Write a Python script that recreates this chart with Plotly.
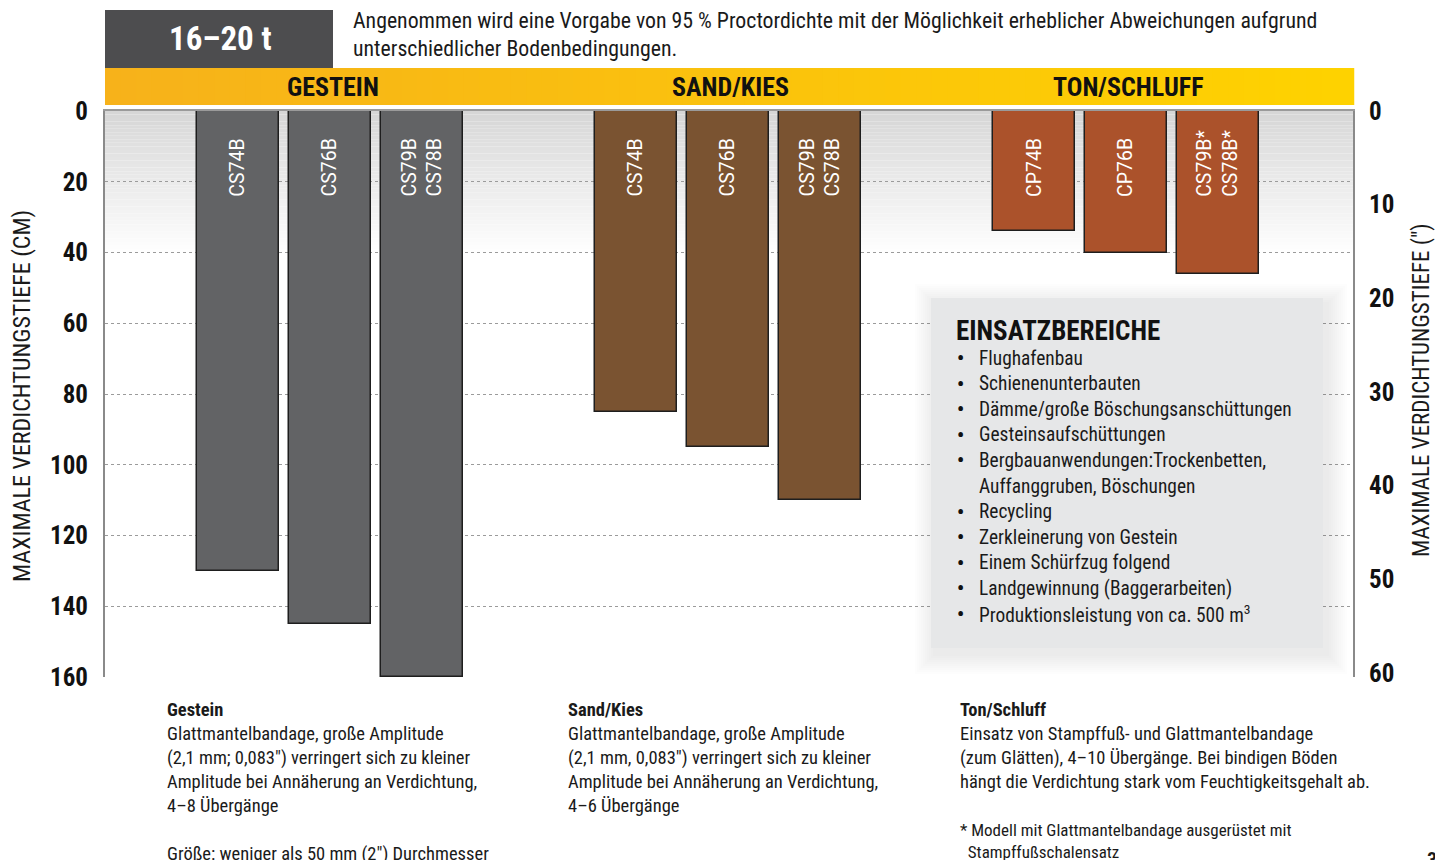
import plotly.graph_objects as go

# ---------------- data ----------------
groups = ["GESTEIN", "SAND/KIES", "TON/SCHLUFF"]
gestein_models = ["CS74B", "CS76B", "CS79B<br>CS78B"]
gestein_depth_cm = [130, 145, 160]
sand_models = ["CS74B", "CS76B", "CS79B<br>CS78B"]
sand_depth_cm = [85, 95, 110]
ton_models = ["CP74B", "CP76B", "CS79B*<br>CS78B*"]
ton_depth_cm = [34, 40, 46]
cm_ticks = [0, 20, 40, 60, 80, 100, 120, 140, 160]
inch_ticks = [0, 10, 20, 30, 40, 50, 60]

einsatz_items = [
    ["Flughafenbau"],
    ["Schienenunterbauten"],
    ["Dämme/große Böschungsanschüttungen"],
    ["Gesteinsaufschüttungen"],
    ["Bergbauanwendungen:Trockenbetten,", "Auffanggruben, Böschungen"],
    ["Recycling"],
    ["Zerkleinerung von Gestein"],
    ["Einem Schürfzug folgend"],
    ["Landgewinnung (Baggerarbeiten)"],
    ["Produktionsleistung von ca. 500 m<sup>3</sup>"],
]

# ---------------- style ----------------
W, H = 1435, 860
ML, MR, MT, MB = 105, 82, 111, 183
PW, PH = W - ML - MR, H - MT - MB
COND = "Liberation Sans Narrow, Roboto Condensed, Roboto, Arial, sans-serif"
LABEL_FONT = "Roboto, Liberation Sans, Arial, sans-serif"
TXT = "#1a1a1a"
group_colors = ["#626365", "#7a5331", "#ab522b"]
GROUP_STEP = 4.33
BAR_W = 0.89
X_RANGE = [-1.446, 12.133]


def px_x(p):
    return (p - ML) / PW


def px_y(p):
    return (H - MB - p) / PH


def note(xp, yp, text, size, color=TXT, xanchor="center", yanchor="middle", bold=False, **kw):
    return dict(x=px_x(xp), y=px_y(yp), xref="paper", yref="paper", text=text, showarrow=False,
                xanchor=xanchor, yanchor=yanchor,
                font=dict(family=COND, size=size, color=color, weight="bold" if bold else "normal"), **kw)


fig = go.Figure()

all_models = [gestein_models, sand_models, ton_models]
all_depths = [gestein_depth_cm, sand_depth_cm, ton_depth_cm]
annotations = []
group_centers = []
for g, (models, depths) in enumerate(zip(all_models, all_depths)):
    xs = [g * GROUP_STEP + i for i in range(len(models))]
    group_centers.append(sum(xs) / len(xs))
    fig.add_trace(go.Bar(
        x=xs, y=depths, base=0, width=BAR_W,
        marker=dict(color=group_colors[g], line=dict(color="#1e1e1e", width=1.5)),
        name=groups[g], showlegend=False, hoverinfo="skip",
    ))
    for x, m in zip(xs, models):
        annotations.append(dict(
            x=x, y=24.8, xref="x", yref="y", text=m, showarrow=False,
            textangle=-90, yanchor="bottom", xanchor="center",
            font=dict(family=LABEL_FONT, size=19.5, color="white"),
        ))

# invisible trace for the right inch axis
fig.add_trace(go.Scatter(x=[X_RANGE[0]], y=[0], yaxis="y2", mode="markers",
                         marker=dict(opacity=0, size=1), showlegend=False, hoverinfo="skip"))

shapes = []
# gray gradient at top of plot area
N = 40
top_h = 40  # cm of fade
for k in range(N):
    t = k / N
    c = int(214 + (255 - 214) * t ** 0.9)
    shapes.append(dict(type="rect", xref="paper", yref="y", layer="below",
                       x0=0, x1=1, y0=top_h * k / N, y1=top_h * (k + 1) / N,
                       fillcolor=f"rgb({c},{c},{c})", line=dict(width=0)))

# yellow band
NB = 80
c0 = (247, 178, 27)
c1 = (255, 211, 0)
for k in range(NB):
    t = (k + 0.5) / NB
    col = tuple(int(c0[j] + (c1[j] - c0[j]) * t) for j in range(3))
    shapes.append(dict(type="rect", xref="paper", yref="paper",
                       x0=k / NB, x1=(k + 1) / NB + 0.001, y0=px_y(105), y1=px_y(68),
                       fillcolor="rgb(%d,%d,%d)" % col, line=dict(width=0)))

# header dark box
shapes.append(dict(type="rect", xref="paper", yref="paper",
                   x0=px_x(105), x1=px_x(333), y0=px_y(68), y1=px_y(10),
                   fillcolor="#4d4d4f", line=dict(width=0)))

# info box soft shadow and box
for s in range(20, 0, -2):
    shapes.append(dict(type="rect", xref="paper", yref="paper",
                       x0=px_x(931 - s + 4), x1=px_x(1323 + s + 4),
                       y0=px_y(648 + s + 6), y1=px_y(298 - s + 6),
                       fillcolor="rgba(140,140,140,0.016)", line=dict(width=0)))
shapes.append(dict(type="rect", xref="paper", yref="paper",
                   x0=px_x(931), x1=px_x(1323), y0=px_y(648), y1=px_y(298),
                   fillcolor="#e6e7e8", line=dict(width=0)))

# group titles in the yellow band
for gc, name in zip(group_centers, groups):
    annotations.append(dict(x=gc, y=px_y(87), xref="x", yref="paper", text=name,
                            xanchor="center", yanchor="middle", showarrow=False, xshift=3,
                            font=dict(family=COND, size=26, color="#111", weight="bold")))

annotations.append(note(220, 39, "16–20 t", 33, color="white", bold=True))
annotations.append(note(351, 35,
                        "Angenommen wird eine Vorgabe von 95 % Proctordichte mit der Möglichkeit erheblicher Abweichungen aufgrund<br>"
                        "unterschiedlicher Bodenbedingungen.",
                        21.8, xanchor="left", align="left"))

# axis titles
annotations.append(note(22, 396, "MAXIMALE VERDICHTUNGSTIEFE (CM)", 24, textangle=-90))
annotations.append(note(1421, 390, "MAXIMALE VERDICHTUNGSTIEFE (\")", 23, textangle=-90))

# info box content
annotations.append(note(954, 331, "EINSATZBEREICHE", 27, color="#111", xanchor="left", bold=True))
line_y = 358
for item in einsatz_items:
    annotations.append(note(955, line_y, "•", 20, color="#111", xanchor="left", bold=True))
    for ln in item:
        annotations.append(note(977, line_y, ln, 19.4, xanchor="left"))
        line_y += 25.6

# bottom text blocks
bottom_blocks = [
    (165, "<b>Gestein</b><br>Glattmantelbandage, große Amplitude<br>(2,1 mm; 0,083\") verringert sich zu kleiner<br>"
          "Amplitude bei Annäherung an Verdichtung,<br>4–8 Übergänge<br> <br>Größe: weniger als 50 mm (2\") Durchmesser"),
    (566, "<b>Sand/Kies</b><br>Glattmantelbandage, große Amplitude<br>(2,1 mm, 0,083\") verringert sich zu kleiner<br>"
          "Amplitude bei Annäherung an Verdichtung,<br>4–6 Übergänge"),
    (958, "<b>Ton/Schluff</b><br>Einsatz von Stampffuß- und Glattmantelbandage<br>(zum Glätten), 4–10 Übergänge. Bei bindigen Böden<br>"
          "hängt die Verdichtung stark vom Feuchtigkeitsgehalt ab."),
]
for xp, txt in bottom_blocks:
    annotations.append(note(xp, 697, txt, 18.5, xanchor="left", yanchor="top", align="left"))
annotations.append(note(958, 818, "* Modell mit Glattmantelbandage ausgerüstet mit<br>\u00a0\u00a0Stampffußschalensatz",
                        17, xanchor="left", yanchor="top", align="left"))
annotations.append(note(1425, 846, "3", 20, xanchor="left", yanchor="top", bold=True))

tickfont = dict(family=COND, size=25, color="#111", weight="bold")
fig.update_layout(
    width=W, height=H,
    margin=dict(l=ML, r=MR, t=MT, b=MB, pad=0),
    paper_bgcolor="white", plot_bgcolor="white",
    bargap=0, barmode="overlay",
    xaxis=dict(range=X_RANGE, showticklabels=False, showgrid=False, zeroline=False,
               showline=True, side="top", linecolor="#9a9a9a", linewidth=2, ticks=""),
    yaxis=dict(range=[160, 0], tickvals=cm_ticks, showgrid=True, gridcolor="#9b9b9b",
               griddash="dot", gridwidth=1, zeroline=False, showline=True,
               linecolor="#8a8a8a", linewidth=2, ticks="", ticklabelstandoff=10,
               tickfont=tickfont),
    yaxis2=dict(range=[60.43, 0], tickvals=inch_ticks, overlaying="y", side="right",
                showgrid=False, zeroline=False, showline=True, linecolor="#8a8a8a", linewidth=2,
                ticks="", ticklabelstandoff=9, tickfont=tickfont),
    shapes=shapes,
    annotations=annotations,
    showlegend=False,
)

fig.write_html("out.html", config={"displayModeBar": False},
               post_script="document.body.style.margin='0';document.body.style.overflow='hidden';")
